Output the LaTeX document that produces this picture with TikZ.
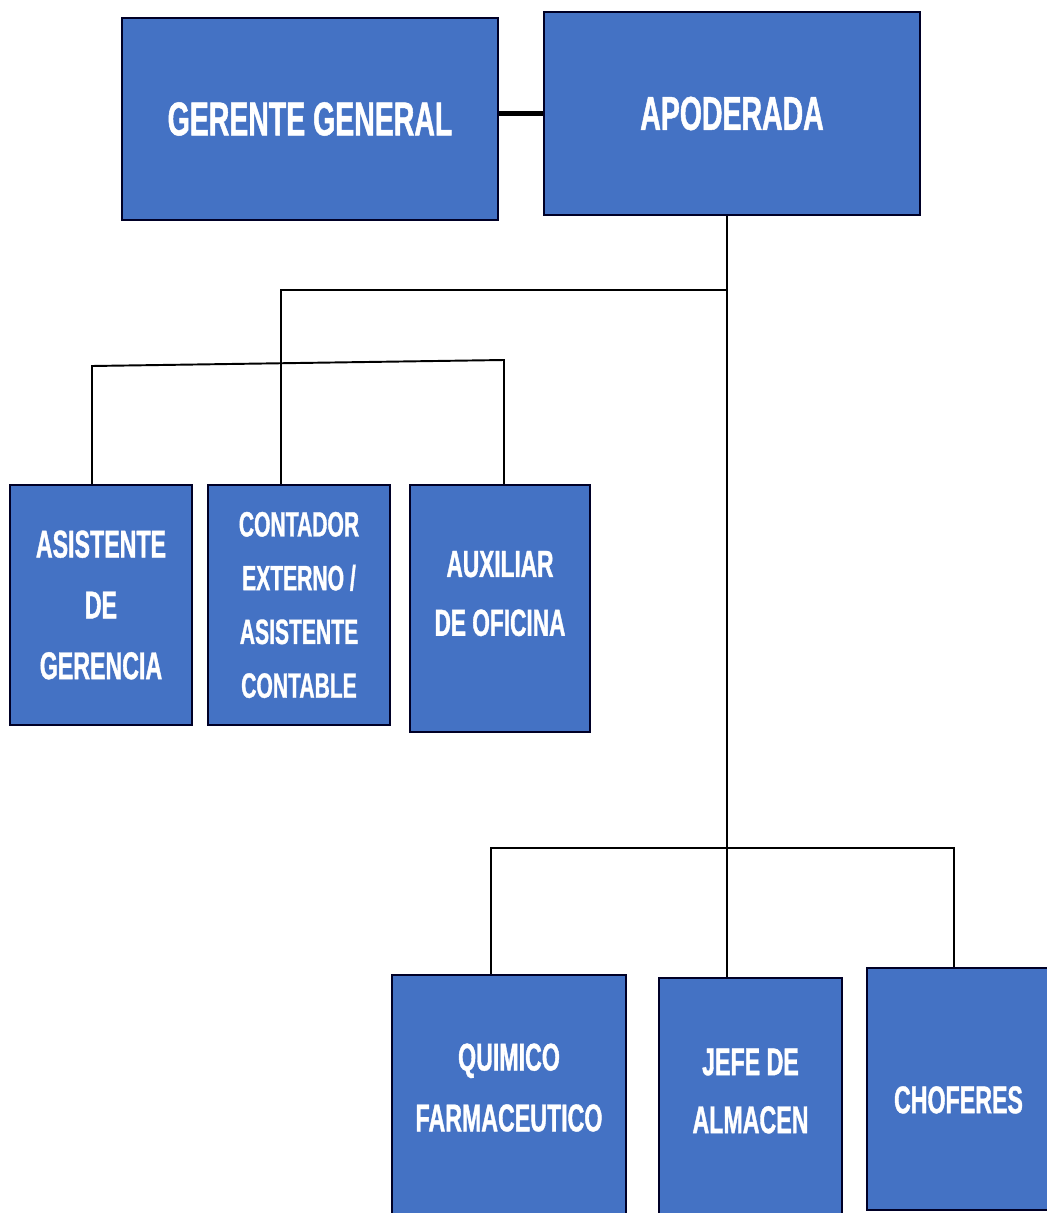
\documentclass[tikz,border=0pt]{standalone}
\usepackage{fontspec}
\newfontfamily\cargofont{Liberation Sans}[FakeStretch=0.6, FakeBold=1]
\definecolor{cargoblue}{HTML}{4472C4}

\begin{document}
\begin{tikzpicture}[x=0.02cm, y=-0.02cm,
  cargo/.style={draw=black!85!blue, line width=1.1pt, fill=cargoblue, text=white, align=center, inner sep=0pt},
  rotulo/.style={text=white, align=center, inner sep=0pt},
  grande/.style={font=\cargofont\bfseries\fontsize{27}{33}\selectfont, line width=1.5pt},
  chico/.style={font=\cargofont\bfseries\fontsize{22}{34.6}\selectfont},
  linea/.style={line width=1.1pt}]
  \useasboundingbox (0,0) rectangle (1046,1213);

  \node[cargo, grande, minimum width=7.52cm, minimum height=4.04cm] (gerente) at (310,119) {GERENTE GENERAL};
  \node[cargo, grande, minimum width=7.52cm, minimum height=4.06cm] (apoderada) at (732,113.5) {APODERADA};

  \node[cargo, chico, minimum width=3.64cm, minimum height=4.8cm] (asistente) at (101,605) {ASISTENTE\\DE\\GERENCIA};
  \node[cargo, chico, font=\cargofont\bfseries\fontsize{20}{30.6}\selectfont, minimum width=3.64cm, minimum height=4.8cm] (contador) at (299,605) {CONTADOR\\EXTERNO /\\ASISTENTE\\CONTABLE};
  \node[cargo, minimum width=3.6cm, minimum height=4.94cm,
    label={[rotulo, font=\cargofont\bfseries\fontsize{21.5}{33.5}\selectfont, yshift=8.5pt]center:AUXILIAR\\DE OFICINA}] (auxiliar) at (500,608.5) {};

  \node[cargo, minimum width=4.68cm, minimum height=4.82cm,
    label={[rotulo, chico, yshift=4.5pt]center:QUIMICO\\FARMACEUTICO}] (quimico) at (509,1095.5) {};
  \node[cargo, minimum width=3.66cm, minimum height=4.76cm,
    label={[rotulo, font=\cargofont\bfseries\fontsize{22}{33}\selectfont, yshift=3.4pt]center:JEFE DE\\ALMACEN}] (jefe) at (750.5,1097) {};
  \node[cargo, minimum width=3.66cm, minimum height=4.84cm,
    label={[rotulo, chico, yshift=-6.2pt]center:CHOFERES}] (choferes) at (958.5,1089) {};

  \coordinate (s1) at (727,290);
  \coordinate (s2) at (281,290);
  \coordinate (a1) at (92,366);
  \coordinate (a2) at (504,360);
  \coordinate (b1) at (491,848);
  \coordinate (b2) at (727,848);
  \coordinate (b3) at (954,848);

  \draw[line width=2.8pt] (apoderada.west) -- (apoderada.west -| gerente.east);
  \draw[linea] (apoderada.south -| s1) -- (s1) -- (s2) -- (s2 |- contador.north);
  \draw[linea] (asistente.north -| a1) -- (a1) -- (a2) -- (a2 |- auxiliar.north);
  \draw[linea] (s1) -- (b2) -- (b2 |- jefe.north);
  \draw[linea] (b1 |- quimico.north) -- (b1) -- (b3) -- (b3 |- choferes.north);
\end{tikzpicture}
\end{document}
